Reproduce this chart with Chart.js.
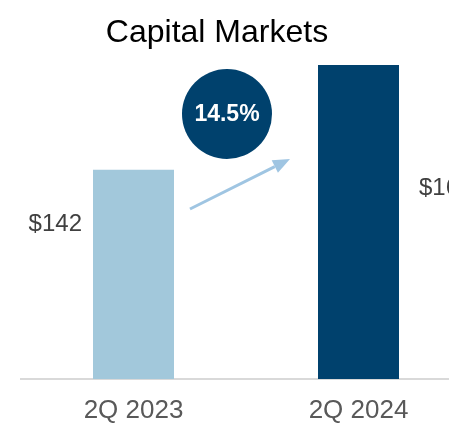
<!DOCTYPE html>
<html>
<head>
<meta charset="utf-8">
<script src="https://cdn.jsdelivr.net/npm/chart.js@4"></script>
<style>
  html, body { margin: 0; padding: 0; background: #fff; overflow: hidden; }
</style>
</head>
<body>
<canvas id="capitalMarketsChart" width="471" height="443"></canvas>
<script>
// Data
const categories = ['2Q 2023', '2Q 2024'];
const revenue = [142, 163];
const valueLabels = ['$142', '$163'];
const growthLabel = '14.5%';
const chartTitle = 'Capital Markets';

const lightBlue = '#a2c8db';
const navy = '#00416d';
const fontFamily = "'Liberation Sans', Arial, sans-serif";

// title, value labels, growth bubble, arrow
const annotationsPlugin = {
    id: 'annotations',
    afterDatasetsDraw(chart) {
        const ctx = chart.ctx;
        const bars = chart.getDatasetMeta(0).data;
        ctx.save();
        ctx.textBaseline = 'middle';

        // title
        ctx.font = '32px ' + fontFamily;
        ctx.fillStyle = '#000';
        ctx.textAlign = 'center';
        ctx.fillText(chartTitle, 217, 33);

        ctx.font = '24px ' + fontFamily;
        ctx.fillStyle = '#404040';

        // $142 left of first bar
        const b0 = bars[0];
        ctx.textAlign = 'right';
        ctx.fillText(valueLabels[0], b0.x - b0.width / 2 - 11, b0.y + 55);

        // $163 right of second bar
        const b1 = bars[1];
        ctx.textAlign = 'left';
        ctx.fillText(valueLabels[1], b1.x + b1.width / 2 + 20, b1.y + 123);

        // growth bubble
        const cx = 227, cy = 114, r = 45;
        ctx.beginPath();
        ctx.arc(cx, cy, r, 0, Math.PI * 2);
        ctx.fillStyle = navy;
        ctx.fill();
        ctx.font = 'bold 23px ' + fontFamily;
        ctx.fillStyle = '#fff';
        ctx.textAlign = 'center';
        ctx.fillText(growthLabel, cx, cy + 1);

        // arrow
        const x1 = 190, y1 = 209, x2 = 290, y2 = 159;
        const ang = Math.atan2(y2 - y1, x2 - x1);
        const headLen = 17, headW = 7;
        ctx.strokeStyle = '#9fc5e2';
        ctx.fillStyle = '#9fc5e2';
        ctx.lineWidth = 3;
        ctx.beginPath();
        ctx.moveTo(x1, y1);
        ctx.lineTo(x2 - headLen * Math.cos(ang), y2 - headLen * Math.sin(ang));
        ctx.stroke();
        ctx.beginPath();
        ctx.moveTo(x2, y2);
        ctx.lineTo(x2 - headLen * Math.cos(ang) + headW * Math.sin(ang), y2 - headLen * Math.sin(ang) - headW * Math.cos(ang));
        ctx.lineTo(x2 - headLen * Math.cos(ang) - headW * Math.sin(ang), y2 - headLen * Math.sin(ang) + headW * Math.cos(ang));
        ctx.closePath();
        ctx.fill();
        ctx.restore();
    }
};

const ctxCapital = document.getElementById('capitalMarketsChart').getContext('2d');
new Chart(ctxCapital, {
    type: 'bar',
    data: {
        labels: categories,
        datasets: [{
            data: revenue,
            backgroundColor: [lightBlue, navy],
            borderWidth: 0,
            barPercentage: 0.6,
            categoryPercentage: 0.6
        }]
    },
    options: {
        responsive: false,
        animation: false,
        layout: { padding: { left: 21, right: 0, top: 60, bottom: 0 } },
        plugins: {
            legend: { display: false },
            tooltip: { enabled: false },
            title: { display: false }
        },
        scales: {
            x: {
                grid: { display: false, drawTicks: false },
                border: { color: '#d9d9d9', width: 2 },
                ticks: {
                    color: '#595959',
                    padding: 19,
                    font: { family: fontFamily, size: 26, lineHeight: 1 }
                }
            },
            y: {
                display: false,
                min: 100,
                max: 164
            }
        }
    },
    plugins: [annotationsPlugin]
});
</script>
</body>
</html>
